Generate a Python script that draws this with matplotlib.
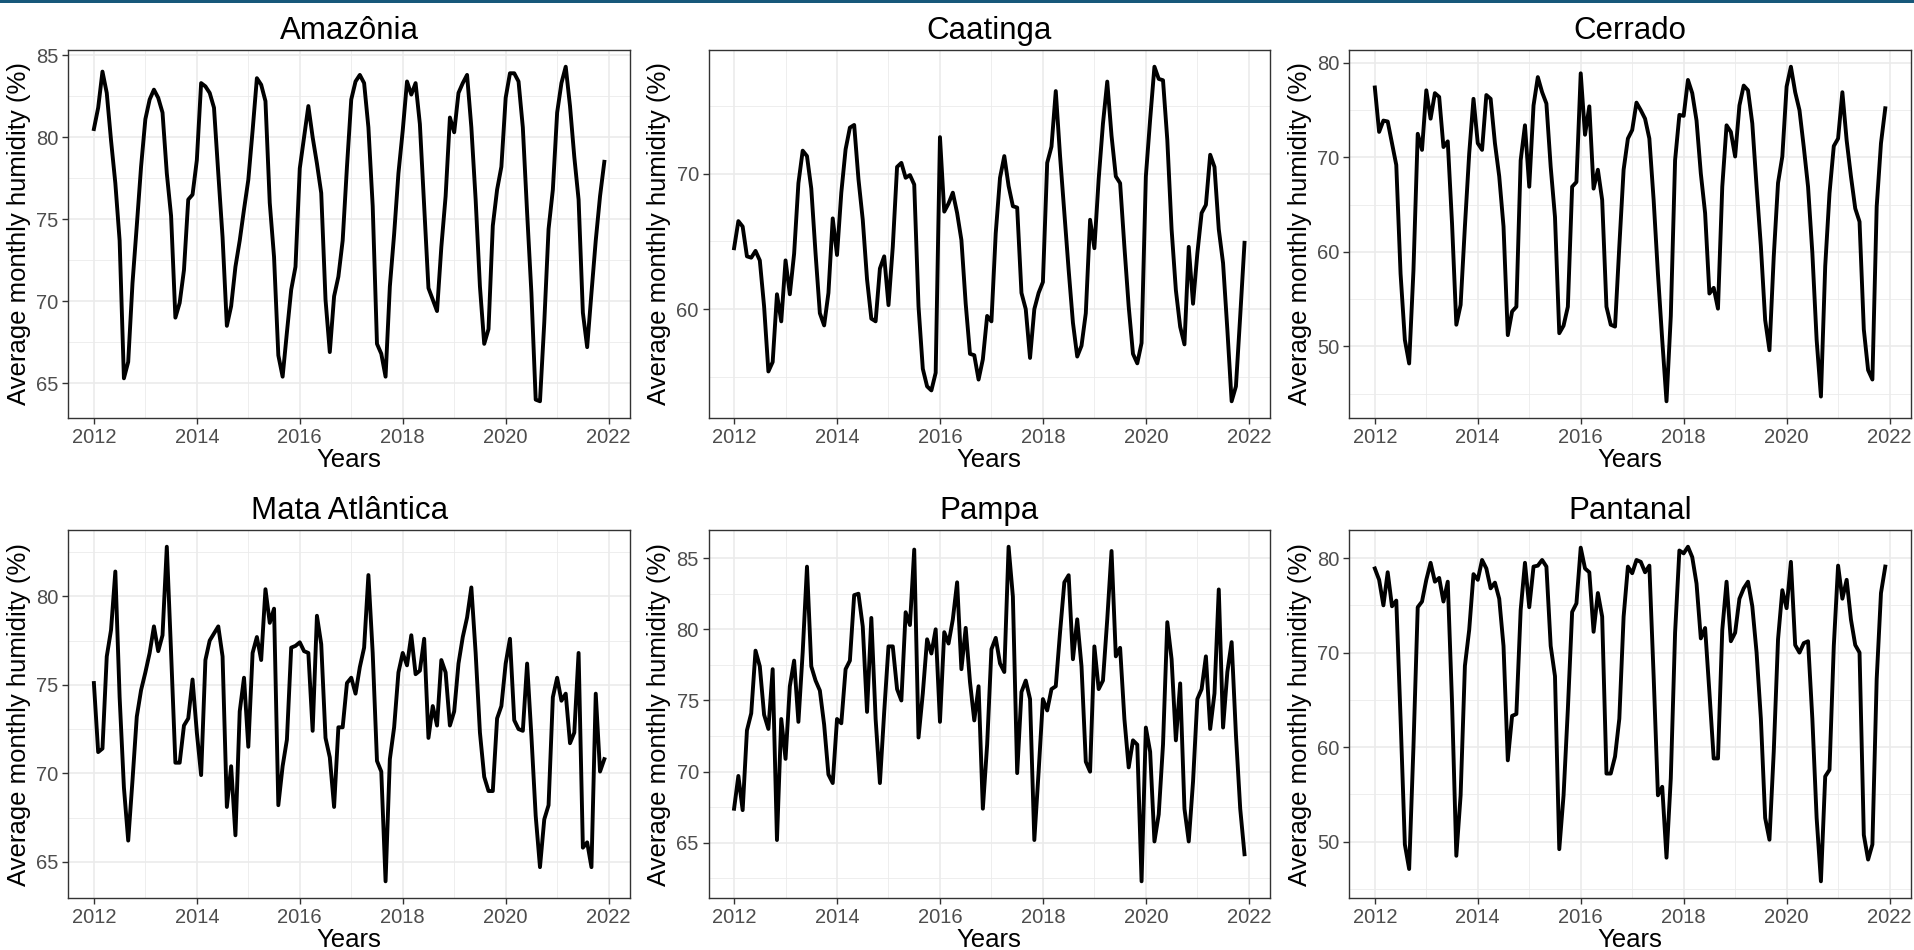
import numpy as np
import matplotlib
matplotlib.use("Agg")
import matplotlib.pyplot as plt
from matplotlib.ticker import MultipleLocator, FormatStrFormatter
from matplotlib.patches import Rectangle

plt.rcParams['font.family'] = ['Liberation Sans', 'DejaVu Sans']

# monthly mean relative humidity per biome, Jan 2012 .. Dec 2021
biomes = ["Amazônia", "Caatinga", "Cerrado", "Mata Atlântica", "Pampa", "Pantanal"]

amazonia = [
    80.5, 81.8, 84.0, 82.7, 79.8, 77.2, 73.7, 65.3, 66.3, 71.1, 74.6, 78.2,
    81.1, 82.3, 82.9, 82.4, 81.5, 77.8, 75.2, 69.0, 69.9, 71.9, 76.2, 76.5,
    78.6, 83.3, 83.1, 82.7, 81.8, 77.8, 73.9, 68.5, 69.7, 72.1, 73.7, 75.6,
    77.4, 80.4, 83.6, 83.2, 82.2, 76.0, 72.7, 66.7, 65.4, 68.1, 70.7, 72.1,
    78.1, 80.0, 81.9, 80.0, 78.4, 76.6, 70.1, 66.9, 70.3, 71.5, 73.7, 78.2,
    82.3, 83.4, 83.8, 83.3, 80.6, 75.8, 67.4, 66.8, 65.4, 70.9, 74.1, 77.8,
    80.4, 83.4, 82.6, 83.3, 80.8, 75.8, 70.8, 70.1, 69.4, 73.3, 76.4, 81.2,
    80.3, 82.7, 83.3, 83.8, 80.6, 76.2, 70.9, 67.4, 68.3, 74.6, 76.8, 78.2,
    82.4, 83.9, 83.9, 83.4, 80.6, 75.4, 70.5, 64.0, 63.9, 68.7, 74.4, 76.8,
    81.5, 83.3, 84.3, 81.9, 78.8, 76.2, 69.3, 67.2, 70.5, 73.7, 76.4, 78.5]

caatinga = [
    64.5, 66.5, 66.1, 63.9, 63.8, 64.3, 63.6, 60.2, 55.4, 56.1, 61.1, 59.1,
    63.6, 61.1, 64.1, 69.3, 71.7, 71.3, 68.9, 64.1, 59.7, 58.8, 61.2, 66.7,
    64.0, 68.6, 71.8, 73.4, 73.6, 69.6, 66.6, 62.2, 59.3, 59.1, 63.0, 63.9,
    60.3, 64.6, 70.5, 70.8, 69.7, 69.9, 69.2, 60.2, 55.6, 54.3, 54.0, 55.3,
    72.7, 67.2, 67.8, 68.6, 67.1, 65.1, 60.4, 56.7, 56.6, 54.8, 56.3, 59.5,
    59.1, 65.6, 69.7, 71.3, 69.1, 67.6, 67.5, 61.2, 60.0, 56.4, 60.0, 61.2,
    62.0, 70.8, 72.0, 76.1, 71.3, 67.1, 62.9, 59.0, 56.5, 57.3, 59.7, 66.6,
    64.5, 69.6, 73.7, 76.8, 72.8, 69.8, 69.3, 64.6, 60.2, 56.7, 56.0, 57.5,
    69.8, 74.0, 77.9, 77.0, 76.9, 72.5, 65.9, 61.4, 58.7, 57.4, 64.6, 60.4,
    64.1, 67.1, 67.7, 71.4, 70.5, 65.9, 63.4, 58.5, 53.2, 54.3, 59.5, 64.9]

cerrado = [
    77.4, 72.7, 73.9, 73.8, 71.5, 69.2, 57.7, 50.7, 48.2, 58.0, 72.5, 70.8,
    77.1, 74.1, 76.8, 76.4, 71.1, 71.7, 63.0, 52.3, 54.4, 62.7, 70.4, 76.2,
    71.5, 70.8, 76.6, 76.2, 71.5, 68.0, 62.7, 51.2, 53.7, 54.2, 69.7, 73.4,
    66.9, 75.5, 78.5, 76.9, 75.7, 69.0, 63.7, 51.4, 52.2, 54.2, 66.9, 67.4,
    78.9, 72.4, 75.4, 66.7, 68.7, 65.5, 54.2, 52.3, 52.1, 60.6, 68.7, 72.0,
    72.9, 75.8, 75.0, 74.1, 72.0, 65.5, 57.7, 50.7, 44.2, 53.2, 69.7, 74.5,
    74.4, 78.2, 76.8, 73.9, 68.3, 64.1, 55.6, 56.2, 54.0, 66.9, 73.4, 72.7,
    70.1, 75.5, 77.6, 77.1, 73.6, 66.9, 60.6, 52.8, 49.6, 59.5, 67.3, 70.1,
    77.5, 79.6, 76.9, 75.0, 71.1, 66.9, 59.9, 50.7, 44.7, 58.5, 66.2, 71.2,
    72.0, 76.9, 71.8, 68.0, 64.6, 63.2, 51.8, 47.5, 46.5, 64.8, 71.5, 75.2]

mata_atlantica = [
    75.1, 71.2, 71.4, 76.6, 78.1, 81.4, 74.3, 69.2, 66.2, 69.6, 73.2, 74.7,
    75.7, 76.8, 78.3, 76.9, 77.8, 82.8, 76.8, 70.6, 70.6, 72.7, 73.1, 75.3,
    72.3, 69.9, 76.4, 77.5, 77.9, 78.3, 76.6, 68.1, 70.4, 66.5, 73.5, 75.4,
    71.5, 76.8, 77.7, 76.4, 80.4, 78.5, 79.3, 68.2, 70.4, 71.9, 77.1, 77.2,
    77.4, 76.9, 76.8, 72.4, 78.9, 77.3, 72.0, 70.9, 68.1, 72.6, 72.6, 75.1,
    75.4, 74.5, 76.0, 77.1, 81.2, 76.8, 70.7, 70.1, 63.9, 70.8, 72.6, 75.7,
    76.8, 76.1, 77.8, 75.6, 75.8, 77.6, 72.0, 73.8, 72.7, 76.4, 75.7, 72.7,
    73.5, 76.2, 77.7, 78.8, 80.5, 76.8, 72.3, 69.8, 69.0, 69.0, 73.1, 73.8,
    76.2, 77.6, 73.0, 72.5, 72.4, 76.2, 72.1, 67.6, 64.7, 67.4, 68.2, 74.3,
    75.4, 74.1, 74.5, 71.7, 72.3, 76.8, 65.8, 66.1, 64.7, 74.5, 70.1, 70.8]

pampa = [
    67.4, 69.7, 67.3, 72.9, 74.1, 78.5, 77.4, 74.0, 73.0, 77.2, 65.2, 73.7,
    70.9, 76.0, 77.8, 73.5, 78.4, 84.4, 77.4, 76.4, 75.7, 73.3, 69.8, 69.2,
    73.7, 73.4, 77.2, 77.8, 82.4, 82.5, 80.2, 74.2, 80.8, 73.7, 69.2, 74.2,
    78.8, 78.8, 75.8, 75.0, 81.2, 80.3, 85.6, 72.4, 75.5, 79.3, 78.3, 80.0,
    73.5, 79.8, 79.0, 80.7, 83.3, 77.2, 80.1, 76.3, 73.6, 76.0, 67.4, 71.9,
    78.6, 79.4, 77.6, 77.0, 85.8, 82.3, 69.9, 75.6, 76.4, 75.1, 65.2, 70.0,
    75.1, 74.3, 75.8, 76.0, 79.8, 83.3, 83.8, 77.9, 80.7, 77.4, 70.7, 70.0,
    78.8, 75.8, 76.4, 80.7, 85.5, 78.1, 78.7, 73.7, 70.3, 72.2, 71.9, 62.3,
    73.1, 71.4, 65.1, 67.0, 71.9, 80.5, 77.9, 72.2, 76.2, 67.4, 65.1, 69.3,
    75.1, 75.8, 78.1, 73.0, 75.5, 82.8, 73.1, 77.0, 79.1, 72.6, 67.4, 64.2]

pantanal = [
    78.9, 77.7, 75.0, 78.5, 74.9, 75.5, 63.0, 49.7, 47.1, 60.0, 74.8, 75.4,
    77.7, 79.5, 77.5, 77.9, 75.4, 77.5, 64.7, 48.5, 54.9, 68.6, 72.4, 78.3,
    77.7, 79.8, 78.9, 76.8, 77.4, 75.7, 70.7, 58.6, 63.3, 63.5, 74.5, 79.5,
    74.8, 79.1, 79.2, 79.8, 79.1, 70.7, 67.5, 49.2, 54.9, 64.0, 74.3, 75.2,
    81.1, 78.9, 78.5, 72.2, 76.3, 73.8, 57.2, 57.2, 59.0, 63.0, 73.8, 79.1,
    78.4, 79.8, 79.6, 78.5, 79.2, 67.5, 54.9, 55.8, 48.3, 56.7, 72.1, 80.8,
    80.5, 81.2, 80.1, 77.3, 71.5, 72.6, 65.8, 58.8, 58.8, 72.4, 77.5, 71.2,
    72.1, 75.7, 76.8, 77.5, 74.9, 70.0, 63.0, 52.5, 50.2, 59.5, 71.4, 76.6,
    74.7, 79.6, 70.8, 70.0, 71.0, 71.2, 63.0, 52.5, 45.8, 56.9, 57.6, 70.7,
    79.2, 75.7, 77.7, 73.5, 70.8, 70.0, 50.7, 48.1, 49.7, 67.2, 76.3, 79.1]

series = [amazonia, caatinga, cerrado, mata_atlantica, pampa, pantanal]
ysteps = [5, 10, 10, 5, 5, 10]

months = np.arange(len(amazonia))
years = 2012 + months / 12

fig = plt.figure(figsize=(19.15, 9.5), dpi=100)

# dark strip at the very top of the image
fig.add_artist(Rectangle((0, 1 - 3 / 950), 1, 3 / 950, transform=fig.transFigure,
                         color='#17587a', lw=0))

lefts = [0.0357, 0.3700, 0.7046]
bottoms = [0.5600, 0.0547]
w, h = 0.2932, 0.3874

for k, (name, vals) in enumerate(zip(biomes, series)):
    ax = fig.add_axes([lefts[k % 3], bottoms[k // 3], w, h])
    ax.plot(years, vals, color='black', lw=2.8)

    ax.xaxis.set_major_locator(MultipleLocator(2))
    ax.xaxis.set_minor_locator(MultipleLocator(1))
    ax.yaxis.set_major_locator(MultipleLocator(ysteps[k]))
    ax.yaxis.set_minor_locator(MultipleLocator(ysteps[k] / 2))
    ax.yaxis.set_major_formatter(FormatStrFormatter('%d'))

    ax.grid(which='major', color='#EBEBEB', lw=1.2)
    ax.grid(which='minor', color='#EBEBEB', lw=0.6)
    ax.set_axisbelow(True)
    for s in ax.spines.values():
        s.set_color('#333333')
        s.set_linewidth(1.0)

    ax.tick_params(which='major', length=4, width=1, color='#333333',
                   labelsize=14.5, labelcolor='#4D4D4D', pad=3)
    ax.tick_params(which='minor', length=0)

    ax.set_title(name, fontsize=22.5, pad=8)
    ax.set_xlabel('Years', fontsize=18.5, labelpad=1)
    ax.set_ylabel('Average monthly humidity (%)', fontsize=18.5, labelpad=4)

fig.savefig('out.png', dpi=100)
